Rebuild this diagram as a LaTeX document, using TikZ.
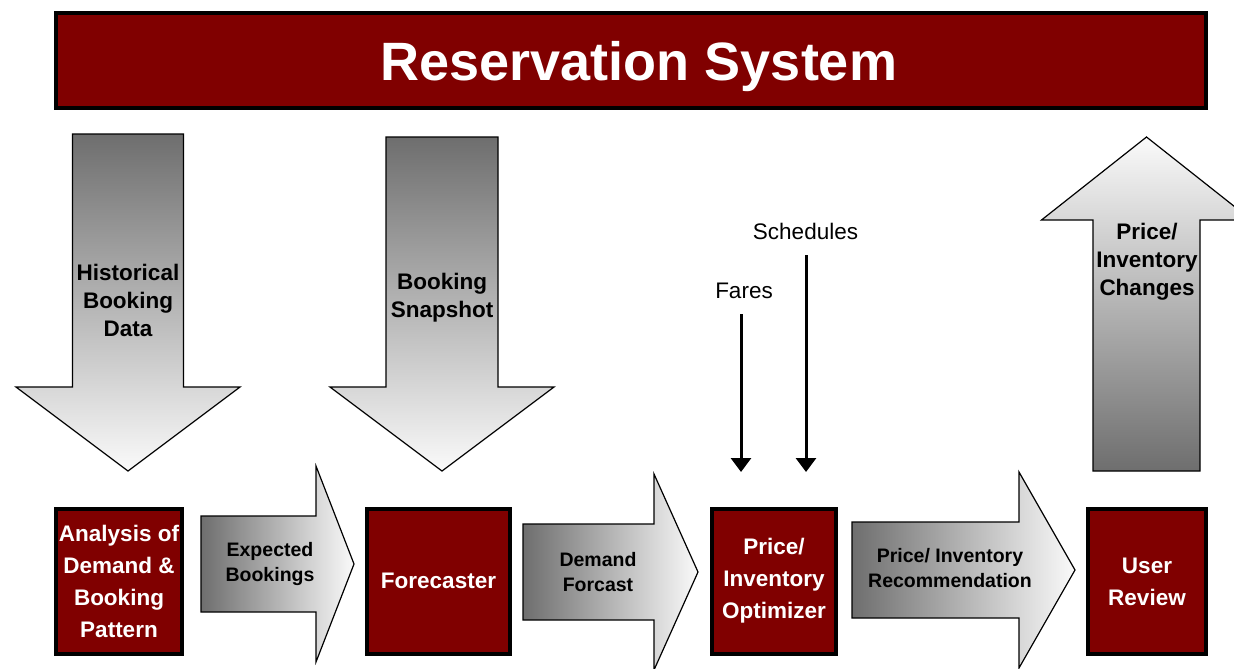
\documentclass[tikz,border=0pt]{standalone}
\usepackage{fontspec}
\setmainfont{Liberation Sans}
\usetikzlibrary{arrows.meta}
\definecolor{maroon}{RGB}{128,0,0}
\definecolor{arrdark}{RGB}{110,110,110}
\definecolor{arrlight}{RGB}{250,250,250}
\tikzset{
  banner/.style  = {draw, line width=4pt, fill=maroon, text=white, inner sep=0pt,
                    font=\bfseries\fontsize{54}{60}\selectfont, text depth=0pt,
                    minimum width=1150pt, minimum height=95pt},
  stage/.style   = {draw, line width=4pt, fill=maroon, text=white, inner sep=0pt,
                    align=center, font=\bfseries\fontsize{22.5}{32}\selectfont,
                    minimum height=145pt},
  bigarr/.style  = {draw, line width=1.2pt, line join=miter},
  feedtxt/.style = {align=center, inner sep=0pt, font=\bfseries\fontsize{22.5}{28}\selectfont},
  flowtxt/.style = {align=center, inner sep=0pt, font=\bfseries\fontsize{19.5}{24.5}\selectfont},
  lbl/.style     = {inner sep=0pt, anchor=base, font=\fontsize{22.5}{27}\selectfont},
  feed/.style    = {-{Triangle[width=20pt,length=14pt]}, line width=3pt, shorten <=16pt}
}
% block arrow pointing right: #1 left, #2 head base, #3 tip, #4 centre y
\newcommand{\rightblock}[4]{%
  \draw[bigarr, left color=arrdark, right color=arrlight]
    (#1,#4-48) -- (#2,#4-48) -- (#2,#4-98) -- (#3,#4) -- (#2,#4+98)
    -- (#2,#4+48) -- (#1,#4+48) -- cycle;}
% vertical block arrow: #1 style, #2 centre x, #3 tail, #4 head base, #5 tip, #6 shaft half, #7 head half
\newcommand{\vertblock}[7]{%
  \draw[bigarr, #1]
    (#2-#6,#3) -- (#2-#6,#4) -- (#2-#7,#4) -- (#2,#5) -- (#2+#7,#4)
    -- (#2+#6,#4) -- (#2+#6,#3) -- cycle;}

\begin{document}
\begin{tikzpicture}[x=1pt,y=-1pt]
  \useasboundingbox (0,0) rectangle (1234,669);
  \clip (0,0) rectangle (1234,669);

  \node[banner] (sys) at (631,60.5) {\hspace*{16pt}Reservation System};

  % data flowing in and out of the system
  \vertblock{top color=arrdark, bottom color=arrlight}{128}{134}{387}{471}{55.5}{112}
  \vertblock{top color=arrdark, bottom color=arrlight}{442}{137}{387}{471}{56}{112}
  \vertblock{top color=arrlight, bottom color=arrdark}{1146.5}{471}{220}{137}{53.5}{105}
  \node[feedtxt] (hbd)  at (128,300)  {Historical\\Booking\\Data};
  \node[feedtxt] (snap) at (442,298)  {Booking\\Snapshot};
  \node[feedtxt] (chg)  at (1147,262) {Price/\\Inventory\\Changes};

  % processing steps
  \node[stage, minimum width=126pt] (ana) at (119,581.5)  {Analysis of\\Demand \&\\Booking\\Pattern};
  \node[stage, minimum width=143pt] (fc)  at (438.5,581)  {Forecaster};
  \node[stage, minimum width=124pt] (opt) at (774,581)    {Price/\\Inventory\\Optimizer};
  \node[stage, minimum width=118pt] (rev) at (1147,581.5) {User\\Review};

  \rightblock{201}{316}{354}{564}
  \rightblock{523}{654}{698}{572}
  \rightblock{852}{1019}{1075}{570}
  \node[flowtxt] (expb) at (270,564) {Expected\\Bookings};
  \node[flowtxt] (dfc)  at (598,572) {Demand\\Forcast};
  \node[flowtxt] (rec)  at (950,568) {Price/ Inventory\\Recommendation};

  % extra inputs to the optimizer
  \node[lbl] (fares) at (744,298)   {Fares};
  \node[lbl] (sched) at (805.5,239) {Schedules};
  \coordinate (faresin) at (741,472);
  \coordinate (schedin) at (806,472);
  \draw[feed] (fares.south -| faresin) -- (faresin);
  \draw[feed] (sched.south -| schedin) -- (schedin);
\end{tikzpicture}
\end{document}
